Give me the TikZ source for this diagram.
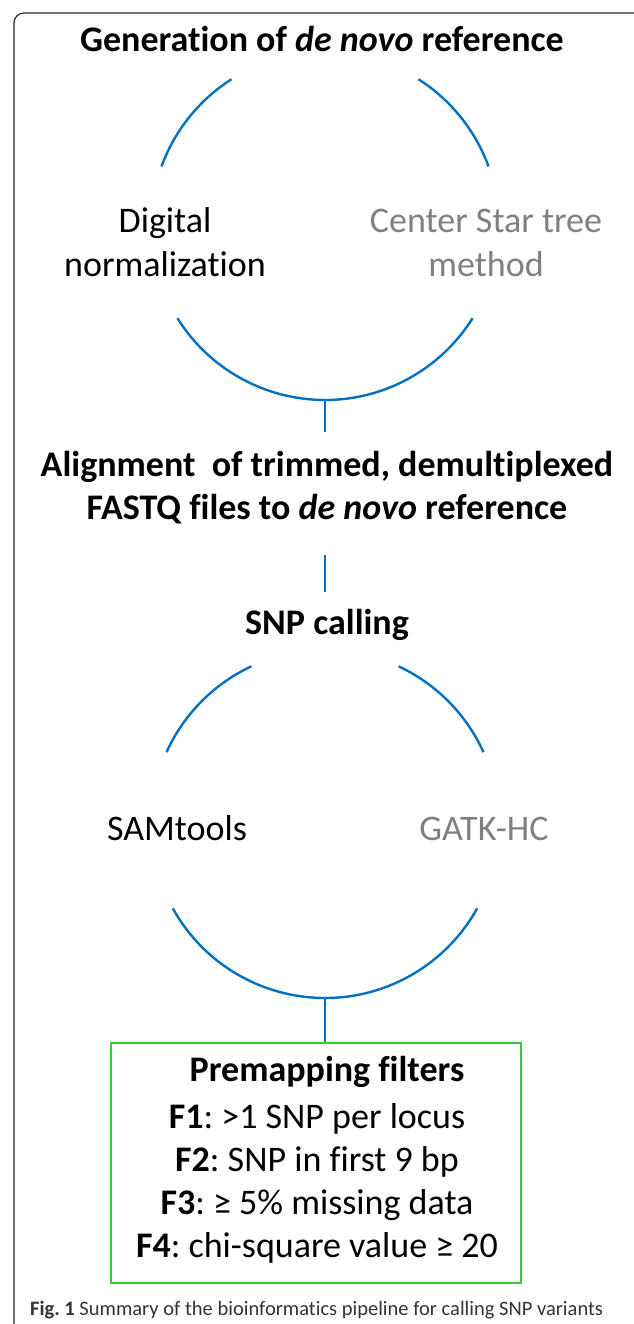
\documentclass[tikz,border=0pt]{standalone}
\usepackage{fontspec}
\setmainfont{Carlito}[Ligatures=CommonOff]
\usepackage{xcolor}
\definecolor{arcblue}{HTML}{0070C0}
\definecolor{boxgreen}{HTML}{3CC83C}
\definecolor{softgray}{HTML}{808080}
\definecolor{capgray}{HTML}{333333}
\frenchspacing

\begin{document}
\begin{tikzpicture}[
    x=1pt, y=1pt,
    % Style pour les titres d'étapes (gras)
    stepnode/.style={font=\fontsize{36}{43}\selectfont\bfseries, align=center, anchor=base, inner sep=0pt},
    % Style pour les méthodes (texte normal)
    methnode/.style={font=\fontsize{36}{44}\selectfont, align=center, anchor=base, inner sep=0pt},
    % Méthode alternative (grisée)
    altnode/.style={methnode, text=softgray},
    % Arcs bleus autour des méthodes
    arcline/.style={draw=arcblue, line width=2.4pt},
    % Lignes de liaison
    linkline/.style={draw=arcblue, line width=2pt},
    % Cadre vert des filtres
    filterbox/.style={draw=boxgreen, line width=2pt, minimum width=410pt, minimum height=240pt, anchor=north, inner sep=0pt},
    % Cadre extérieur
    framebox/.style={draw=black!85, line width=1.2pt, rounded corners=10pt},
    % Légende
    capnode/.style={font=\fontsize{20.5}{24}\selectfont, text=capgray, anchor=base west, inner sep=0pt}
]
\useasboundingbox (0,0) rectangle (633,1324);

% Cadre
\draw[framebox] (14,-20) |- (645,1311) -- (645,-20);

% Etape 1
\node[stepnode] (gen) at (322,1272) {Generation of \textit{de novo} reference};
\coordinate (c1) at (325,1098);
\draw[arcline] ([shift=(122.5:174)]c1) arc[start angle=122.5, end angle=160, radius=174];
\draw[arcline] ([shift=(57.5:174)]c1) arc[start angle=57.5, end angle=20, radius=174];
\draw[arcline] ([shift=(212:174)]c1) arc[start angle=212, end angle=328, radius=174];
\node[methnode] (digital) at (165,1047) {Digital\\normalization};
\node[altnode] (cstar) at (486,1047) {Center Star tree\\method};
\coordinate (c1b) at (325,924);
\coordinate (l1) at (325,892);
\draw[linkline] (c1b) -- (l1);

% Etape 2
\node[stepnode] (align) at (327,804) {Alignment\ \ of trimmed, demultiplexed\\FASTQ files to \textit{de novo} reference};
\coordinate (l2a) at (325,769);
\coordinate (l2b) at (325,732);
\draw[linkline] (l2a) -- (l2b);

% Etape 3
\node[stepnode] (snp) at (327,689) {SNP calling};
\coordinate (c2) at (325,500);
\draw[arcline] ([shift=(115:174)]c2) arc[start angle=115, end angle=155.6, radius=174];
\draw[arcline] ([shift=(65:174)]c2) arc[start angle=65, end angle=24.4, radius=174];
\draw[arcline] ([shift=(209:174)]c2) arc[start angle=209, end angle=331, radius=174];
\node[methnode] (samtools) at (177,483) {SAMtools};
\node[altnode] (gatk) at (484,483) {GATK-HC};
\coordinate (c2b) at (325,326);

% Filtres
\node[filterbox] (filters) at (316,282) {};
\draw[linkline] (c2b) -- (filters.north -| c2b);
\node[stepnode] (premap) at (327,242) {Premapping filters};
\node[methnode, font=\fontsize{36}{43.3}\selectfont] (flist) at (317,66) {\textbf{F1}: >1 SNP per locus\\\textbf{F2}: SNP in first 9 bp\\\textbf{F3}: ≥ 5\% missing data\\\textbf{F4}: chi-square value ≥ 20};

% Légende
\node[capnode] (caption) at (30,9) {\textbf{Fig. 1} Summary of the bioinformatics pipeline for calling SNP variants};

\end{tikzpicture}
\end{document}
